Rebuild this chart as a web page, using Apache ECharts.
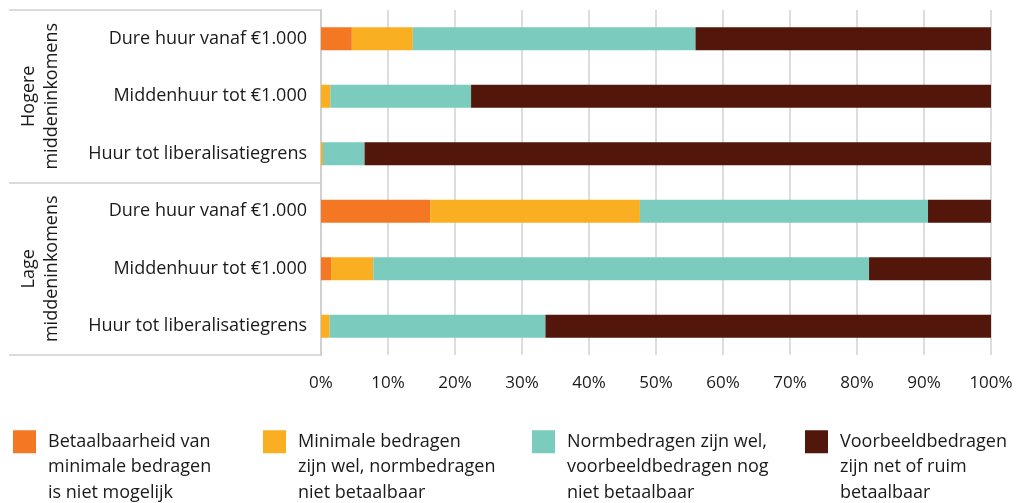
<!DOCTYPE html>
<html>
<head>
<meta charset="utf-8">
<script src="https://cdn.jsdelivr.net/npm/echarts@6/dist/echarts.min.js"></script>
<style>
html,body{margin:0;padding:0;background:#fff;}
#chart{width:1019px;height:503px;}
</style>
</head>
<body>
<div id="chart"></div>
<script>
// Categories (top to bottom)
const categories = [
  'Dure huur vanaf €1.000',
  'Middenhuur tot €1.000',
  'Huur tot liberalisatiegrens',
  'Dure huur vanaf €1.000',
  'Middenhuur tot €1.000',
  'Huur tot liberalisatiegrens'
];
const groups = ['Hogere\nmiddeninkomens', 'Lage\nmiddeninkomens'];

// Series names and wrapped legend labels
const seriesNames = [
  'Betaalbaarheid van minimale bedragen is niet mogelijk',
  'Minimale bedragen zijn wel, normbedragen niet betaalbaar',
  'Normbedragen zijn wel, voorbeeldbedragen nog niet betaalbaar',
  'Voorbeeldbedragen zijn net of ruim betaalbaar'
];
const legendLabels = [
  'Betaalbaarheid van\nminimale bedragen\nis niet mogelijk',
  'Minimale bedragen\nzijn wel, normbedragen\nniet betaalbaar',
  'Normbedragen zijn wel,\nvoorbeeldbedragen nog\nniet betaalbaar',
  'Voorbeeldbedragen\nzijn net of ruim\nbetaalbaar'
];

// Values (percent), in category order
const nietMogelijk   = [4.6, 0,    0,    16.3, 1.5,  0];
const minimaalWel    = [9.1, 1.4,  0.3,  31.3, 6.3,  1.3];
const normWel        = [42.2, 21.0, 6.2, 43.0, 74.0, 32.2];
const voorbeeldWel   = [44.1, 77.6, 93.5, 9.4, 18.2, 66.5];

// X axis ticks
const xTicks = [0, 10, 20, 30, 40, 50, 60, 70, 80, 90, 100];

const colors = ['#F47723', '#FAAE22', '#7BCBBF', '#52160A'];
const values = [nietMogelijk, minimaalWel, normWel, voorbeeldWel];
const FONT = 'Open Sans';
const TXT = '#1a1a1a';

const chart = echarts.init(document.getElementById('chart'), null, {renderer: 'canvas'});

const legendLefts = [13, 263, 532, 805];
const legends = seriesNames.map((n, i) => ({
  data: [n],
  left: legendLefts[i],
  top: 378,
  padding: 0,
  itemWidth: 23,
  itemHeight: 23,
  icon: 'rect',
  selectedMode: false,
  formatter: name => '\n\n' + legendLabels[seriesNames.indexOf(name)],
  textStyle: {
    fontFamily: FONT, fontSize: 18, lineHeight: 25.5, color: TXT,
    padding: [0, 0, 0, 7]
  }
}));

const option = {
  animation: false,
  backgroundColor: '#fff',
  textStyle: {fontFamily: FONT},
  grid: {left: 321, right: 28, top: 10, bottom: 148, containLabel: false},
  legend: legends,
  xAxis: {
    type: 'value',
    min: 0, max: 100, interval: 10,
    axisLine: {show: false},
    axisTick: {show: false},
    splitLine: {show: true, lineStyle: {color: '#d2d2d2', width: 1.5}},
    axisLabel: {
      formatter: v => xTicks.includes(v) ? v + '%' : '',
      fontFamily: FONT, fontSize: 17, color: TXT, margin: 20
    }
  },
  yAxis: [
    {
      type: 'category',
      data: categories,
      inverse: true,
      axisLine: {show: true, lineStyle: {color: '#d0d0d0', width: 2}},
      axisTick: {show: false},
      splitLine: {show: false},
      axisLabel: {fontFamily: FONT, fontSize: 18, color: TXT, margin: 14, interval: 0}
    },
    {
      type: 'category',
      data: groups,
      inverse: true,
      position: 'left',
      offset: 312,
      axisLine: {show: false},
      axisTick: {show: true, inside: true, length: 312, interval: 0, lineStyle: {color: '#d0d0d0', width: 1.5}},
      splitLine: {show: false},
      axisLabel: {
        inside: true, rotate: 90, margin: 8, interval: 0,
        fontFamily: FONT, fontSize: 18, lineHeight: 23, color: TXT, align: 'center'
      }
    }
  ],
  series: seriesNames.map((n, i) => ({
    name: n,
    type: 'bar',
    stack: 'total',
    barWidth: 23,
    yAxisIndex: 0,
    data: values[i],
    itemStyle: {color: colors[i]},
    emphasis: {disabled: true}
  }))
};
chart.setOption(option);
</script>
</body>
</html>
